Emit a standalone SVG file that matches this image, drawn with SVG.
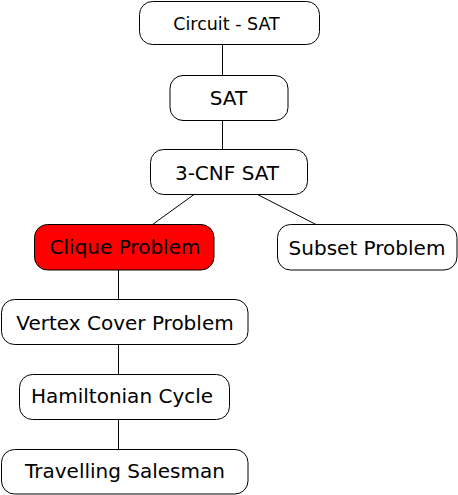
<svg xmlns="http://www.w3.org/2000/svg" width="458" height="495" viewBox="0 0 458 495">
<style>
.box{fill:#fff;stroke:#000;stroke-width:1}
.red{fill:#ff0000}
.t{font-family:"DejaVu Sans",sans-serif;font-size:20px;fill:#000;text-anchor:middle}
.s{font-size:17.5px}
.c{stroke:#000;stroke-width:1;fill:none}
</style>
<rect width="458" height="495" fill="#fff"/>
<g id="connectors">
<line class="c" x1="222.5" y1="44.5" x2="222.5" y2="75"/>
<line class="c" x1="222.5" y1="120.5" x2="222.5" y2="149.5"/>
<line class="c" x1="194" y1="194.5" x2="152.5" y2="224.5"/>
<line class="c" x1="257.5" y1="194.5" x2="316" y2="224.5"/>
<line class="c" x1="118.5" y1="270" x2="118.5" y2="299.5"/>
<line class="c" x1="118.5" y1="344.5" x2="118.5" y2="374.5"/>
<line class="c" x1="118.5" y1="419.5" x2="118.5" y2="449.5"/>
</g>
<g id="circuit-sat">
<rect class="box" x="139.5" y="1.5" width="180" height="43" rx="13"/>
<text class="t s" x="226.5" y="29.5">Circuit - SAT</text>
</g>
<g id="sat">
<rect class="box" x="170" y="75.5" width="118" height="45" rx="13"/>
<text class="t" x="228.5" y="104.5">SAT</text>
</g>
<g id="cnf-sat">
<rect class="box" x="150.5" y="149.5" width="157" height="45" rx="13"/>
<text class="t" x="227" y="179.5">3-CNF SAT</text>
</g>
<g id="clique">
<rect class="box red" x="34.5" y="224.5" width="179.5" height="45.5" rx="13"/>
<text class="t" x="125" y="253.5">Clique Problem</text>
</g>
<g id="subset">
<rect class="box" x="277.5" y="224.5" width="179.5" height="45.5" rx="13"/>
<text class="t" x="367" y="255">Subset Problem</text>
</g>
<g id="vertex-cover">
<rect class="box" x="1.5" y="299.5" width="246.5" height="45" rx="13"/>
<text class="t" x="125" y="329.5">Vertex Cover Problem</text>
</g>
<g id="hamiltonian">
<rect class="box" x="19.5" y="374.5" width="210" height="45" rx="13"/>
<text class="t" x="122" y="402.5">Hamiltonian Cycle</text>
</g>
<g id="travelling">
<rect class="box" x="1.5" y="449.5" width="246.5" height="44.5" rx="13"/>
<text class="t" x="125" y="477.5">Travelling Salesman</text>
</g>
</svg>
